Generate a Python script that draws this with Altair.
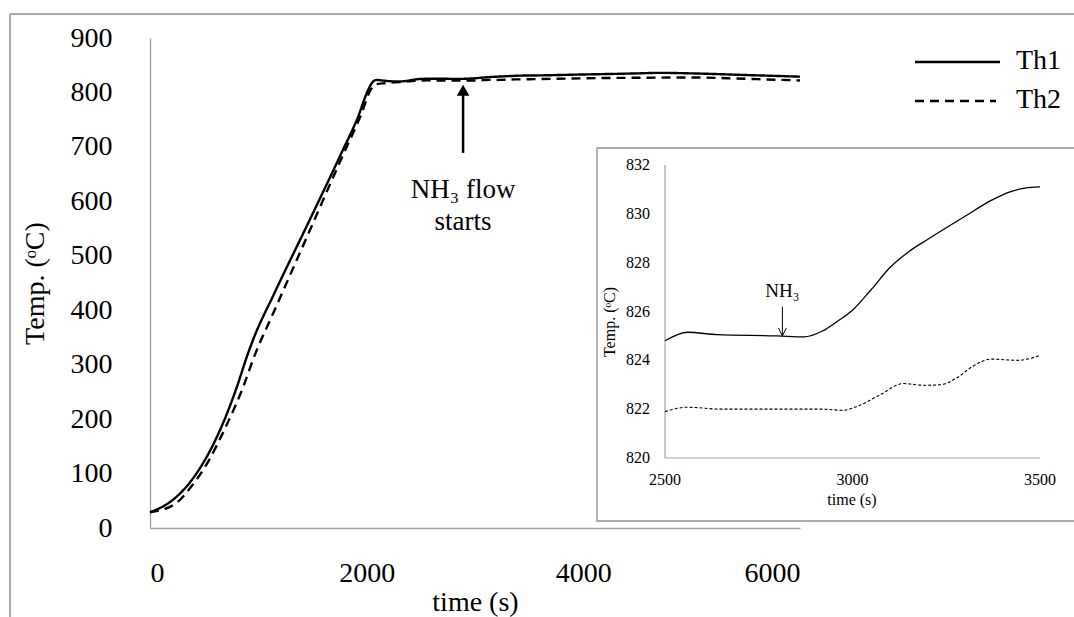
import altair as alt
import pandas as pd

# ---------------- data ----------------
series = ["Th1", "Th2"]

time_th1 = [0, 200, 400, 600, 700, 800, 900, 950, 1150, 1460, 1770, 1920, 2010, 2050, 2090,
            2140, 2290, 2500, 2560, 2640, 2800, 2870, 2920, 2960, 3000, 3050, 3100, 3150, 3200,
            3300, 3370, 3420, 3460, 3500, 4000, 4500, 4700, 5000, 5500, 6000]
temp_th1 = [29, 50, 92, 160, 205, 258, 318, 345, 432, 560, 690, 755, 803, 818, 823,
            822, 820, 824.8, 825.15, 825.05, 825.0, 824.96, 825.2, 825.6, 826.05, 826.9, 827.8, 828.45, 828.95,
            829.9, 830.55, 830.9, 831.05, 831.1, 833, 835, 836, 835, 832, 829]

time_th2 = [0, 230, 385, 540, 690, 850, 970, 1150, 1460, 1770, 1950, 2040, 2090, 2170, 2300,
            2500, 2560, 2650, 2920, 2975, 3010, 3075, 3135, 3190, 3235, 3280, 3320, 3370, 3440,
            3500, 4000, 4500, 5000, 5500, 6000]
temp_th2 = [29, 44, 77, 123, 182, 254, 319, 400, 540, 680, 760, 806, 815, 817, 819,
            821.9, 822.08, 822.0, 822.0, 821.95, 822.1, 822.6, 823.05, 822.98, 823.0, 823.3, 823.75, 824.05, 824.0,
            824.2, 826, 827, 827.5, 825, 822]

main_x_ticks = [0, 2000, 4000, 6000]
main_y_ticks = [0, 100, 200, 300, 400, 500, 600, 700, 800, 900]
inset_x_ticks = [2500, 3000, 3500]
inset_y_ticks = [820, 822, 824, 826, 828, 830, 832]

note_lines = ["NH\u2083 flow", "starts"]
note_time = 2890
note_temps = [621, 562]
arrow_time = 2890
arrow_tail = 689
arrow_head = 804

inset_note = "NH\u2083"
inset_arrow_time = 2813
inset_note_temp = 826.85
inset_arrow_from = 826.2
inset_arrow_to = 825.0

df = pd.DataFrame({
    "time": time_th1 + time_th2,
    "temp": temp_th1 + temp_th2,
    "series": [series[0]] * len(time_th1) + [series[1]] * len(time_th2),
})

FONT = "Liberation Serif"
AXIS_GRAY = "#a0a0a0"
FRAME_GRAY = "#8f8f8f"
MAIN_FS = 28

# ---------------- main chart ----------------
x_main = alt.X("time:Q", scale=alt.Scale(domain=[0, 6000], nice=False, zero=False),
               axis=alt.Axis(values=main_x_ticks, title="time (s)", grid=False, ticks=False, tickSize=0,
                             domainColor=AXIS_GRAY, domainWidth=1.3,
                             labelFont=FONT, labelFontSize=MAIN_FS, labelColor="black", labelPadding=31,
                             titleFont=FONT, titleFontSize=MAIN_FS, titleFontWeight="normal", titleColor="black",
                             titlePadding=1, format="d"))
y_main = alt.Y("temp:Q", scale=alt.Scale(domain=[0, 900], nice=False, zero=False),
               axis=alt.Axis(values=main_y_ticks, title="Temp. (\u1d52C)", grid=False, ticks=False, tickSize=0,
                             domainColor=AXIS_GRAY, domainWidth=1.3,
                             labelFont=FONT, labelFontSize=MAIN_FS, labelColor="black", labelPadding=38,
                             titleFont=FONT, titleFontSize=MAIN_FS, titleFontWeight="normal", titleColor="black",
                             titlePadding=21, format="d"))

main_lines = alt.Chart(df).mark_line(color="black", strokeWidth=2.4, interpolate="monotone").encode(
    x=x_main, y=y_main,
    strokeDash=alt.StrokeDash("series:N", scale=alt.Scale(domain=series, range=[[1, 0], [9, 6]]), legend=None),
)

arrow_df = pd.DataFrame({"time": [arrow_time], "temp": [arrow_tail], "temp2": [arrow_head - 6]})
arrow_rule = alt.Chart(arrow_df).mark_rule(color="black", strokeWidth=2.5).encode(
    x=x_main, y=y_main, y2="temp2:Q")
head_df = pd.DataFrame({"time": [arrow_time], "temp": [arrow_head]})
arrow_tip = alt.Chart(head_df).mark_point(shape="triangle-up", filled=True, color="black",
                                          opacity=1, size=160).encode(x=x_main, y=y_main)
note_df = pd.DataFrame({"time": [note_time] * len(note_lines), "temp": note_temps, "label": note_lines})
note = alt.Chart(note_df).mark_text(font=FONT, fontSize=27, color="black", baseline="middle").encode(
    x=x_main, y=y_main, text="label:N")

main_group = alt.layer(main_lines, arrow_rule, arrow_tip, note)

# ---------------- inset ----------------
x_in = alt.X("time:Q", scale=alt.Scale(domain=[2500, 3500], range=[515, 890], nice=False, zero=False),
             axis=None)
y_in = alt.Y("temp:Q", scale=alt.Scale(domain=[820, 832], range=[420, 127], nice=False, zero=False),
             axis=None)

inset_box = alt.Chart(pd.DataFrame({"k": [0]})).mark_rect(
    fill="white", stroke=FRAME_GRAY, strokeWidth=1.3).encode(
    x=alt.value(447), x2=alt.value(960), y=alt.value(110), y2=alt.value(483))

# inset axis lines
in_yaxis = alt.Chart(pd.DataFrame({"time": [inset_x_ticks[0]], "temp": [inset_y_ticks[0]],
                                   "temp2": [inset_y_ticks[-1]]})).mark_rule(
    color=AXIS_GRAY, strokeWidth=1.2).encode(x=x_in, y=y_in, y2="temp2:Q")
in_xaxis = alt.Chart(pd.DataFrame({"time": [inset_x_ticks[0]], "time2": [inset_x_ticks[-1]],
                                   "temp": [inset_y_ticks[0]]})).mark_rule(
    color=AXIS_GRAY, strokeWidth=1.2).encode(x=x_in, x2="time2:Q", y=y_in)
# inset tick labels
in_ylabels = alt.Chart(pd.DataFrame({"temp": inset_y_ticks, "time": [inset_x_ticks[0]] * len(inset_y_ticks)})
                       ).mark_text(font=FONT, fontSize=16, color="black", align="right", baseline="middle",
                                   dx=-15).encode(x=x_in, y=y_in, text=alt.Text("temp:Q", format="d"))
in_xlabels = alt.Chart(pd.DataFrame({"time": inset_x_ticks, "temp": [inset_y_ticks[0]] * len(inset_x_ticks)})
                       ).mark_text(font=FONT, fontSize=16, color="black", align="center", baseline="middle",
                                   dy=22).encode(x=x_in, y=y_in, text=alt.Text("time:Q", format="d"))
in_xtitle = alt.Chart(pd.DataFrame({"t": ["time (s)"]})).mark_text(
    font=FONT, fontSize=16, color="black", align="center", baseline="middle").encode(
    text="t:N", x=alt.value(702), y=alt.value(462))
in_ytitle = alt.Chart(pd.DataFrame({"t": ["Temp. (\u1d52C)"]})).mark_text(
    font=FONT, fontSize=16, color="black", align="center", baseline="middle", angle=270).encode(
    text="t:N", x=alt.value(460), y=alt.value(284))

inset_base = alt.Chart(df).transform_filter("datum.time >= 2500 && datum.time <= 3500")
inset_th1 = inset_base.transform_filter(alt.datum.series == series[0]).mark_line(
    color="black", strokeWidth=1.3, interpolate="monotone").encode(x=x_in, y=y_in)
inset_th2 = inset_base.transform_filter(alt.datum.series == series[1]).mark_line(
    color="black", strokeWidth=1.1, strokeDash=[3, 2], interpolate="monotone").encode(x=x_in, y=y_in)

in_arrow_df = pd.DataFrame({"time": [inset_arrow_time], "temp": [inset_arrow_from], "temp2": [inset_arrow_to]})
in_arrow = alt.Chart(in_arrow_df).mark_rule(color="black", strokeWidth=1).encode(x=x_in, y=y_in, y2="temp2:Q")
in_head_df = pd.DataFrame({"time": [inset_arrow_time], "temp": [inset_arrow_to]})
in_head = alt.Chart(in_head_df).mark_point(shape="M -0.5 -1 L 0 0 L 0.5 -1", filled=False, color="black",
                                           strokeWidth=1, size=256, opacity=1).encode(x=x_in, y=y_in)
in_note_df = pd.DataFrame({"time": [inset_arrow_time], "temp": [inset_note_temp], "label": [inset_note]})
in_note = alt.Chart(in_note_df).mark_text(font=FONT, fontSize=19, color="black", baseline="middle").encode(
    x=x_in, y=y_in, text="label:N")

inset_group = alt.layer(inset_box, in_yaxis, in_xaxis, in_ylabels, in_xlabels, in_xtitle, in_ytitle,
                        inset_th1, inset_th2, in_arrow, in_head, in_note)

# ---------------- decorations: outer frame + legend ----------------
one = pd.DataFrame({"k": [0]})
frame_top = alt.Chart(one).mark_rule(color=FRAME_GRAY, strokeWidth=1.5).encode(
    x=alt.value(-140), x2=alt.value(1000), y=alt.value(-24))
frame_left = alt.Chart(one).mark_rule(color=FRAME_GRAY, strokeWidth=1.5).encode(
    x=alt.value(-140), y=alt.value(-24), y2=alt.value(700))

leg1_line = alt.Chart(one).mark_rule(color="black", strokeWidth=2.5).encode(
    x=alt.value(765), x2=alt.value(850), y=alt.value(24))
leg2_line = alt.Chart(one).mark_rule(color="black", strokeWidth=2.5, strokeDash=[9, 6]).encode(
    x=alt.value(765), x2=alt.value(846), y=alt.value(63))
leg1_text = alt.Chart(pd.DataFrame({"series": [series[0]]})).mark_text(
    font=FONT, fontSize=MAIN_FS, color="black", align="left", baseline="middle").encode(
    text="series:N", x=alt.value(866), y=alt.value(23))
leg2_text = alt.Chart(pd.DataFrame({"series": [series[1]]})).mark_text(
    font=FONT, fontSize=MAIN_FS, color="black", align="left", baseline="middle").encode(
    text="series:N", x=alt.value(866), y=alt.value(62))

deco = alt.layer(frame_top, frame_left, leg1_line, leg2_line, leg1_text, leg2_text)

chart = alt.layer(deco, main_group, inset_group).resolve_scale(
    x="independent", y="independent", strokeDash="independent"
).properties(
    width=650, height=490,
    padding={"left": 150, "top": 38, "right": 274, "bottom": 89},
    autosize=alt.AutoSizeParams(type="none"),
    background="white",
).configure_view(stroke=None)

chart.save("out.html", embed_options={"renderer": "svg", "actions": False})
